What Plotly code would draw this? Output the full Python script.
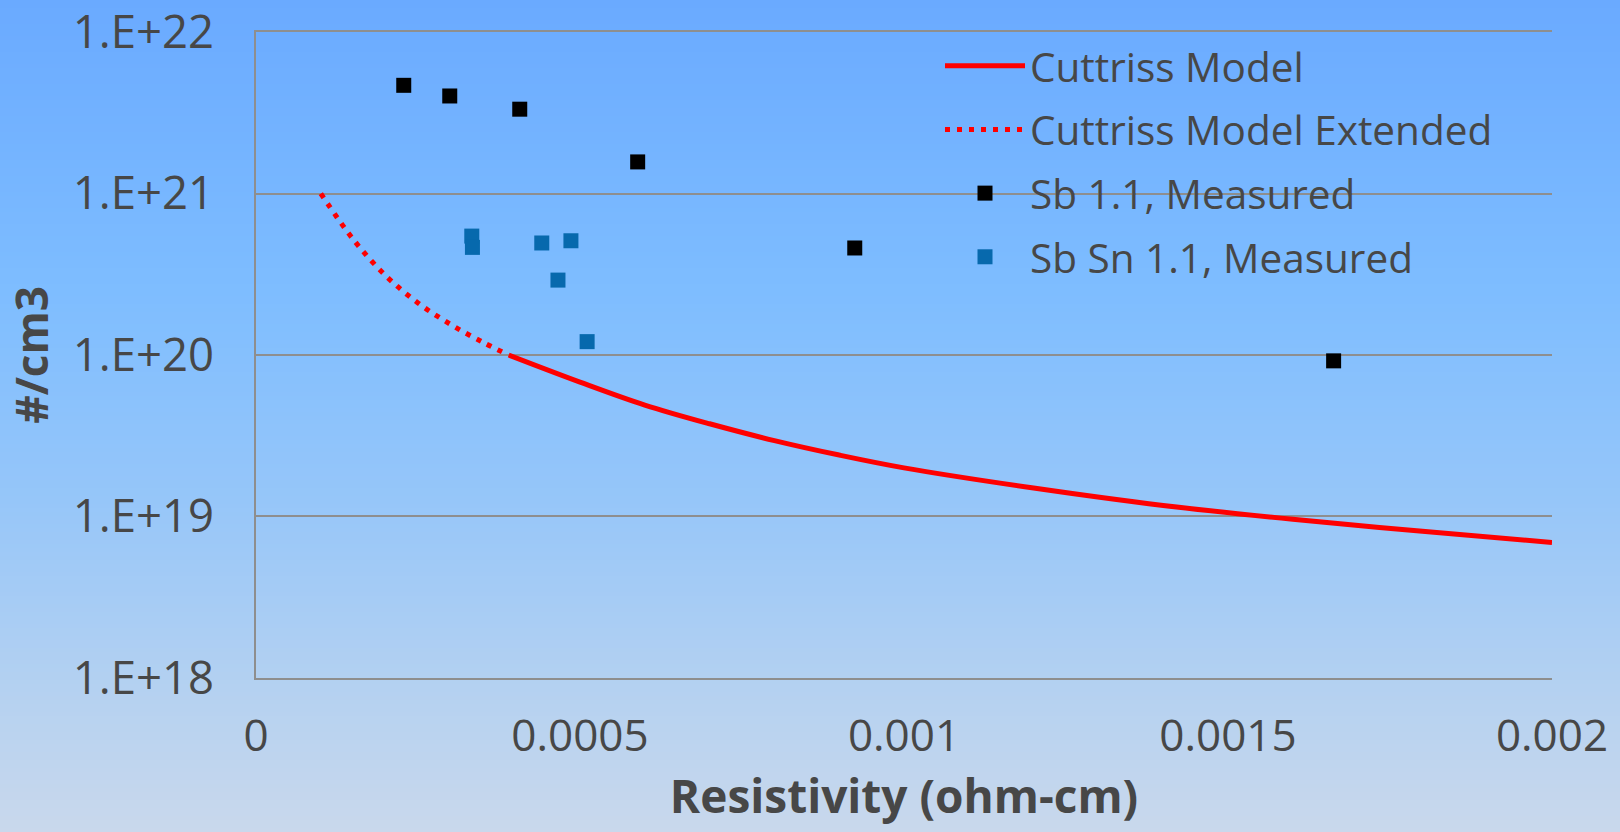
import plotly.graph_objects as go

# ---------------- data ----------------
rho_model = [0.00039, 0.0005, 0.0006, 0.0007, 0.0008, 0.0009, 0.001, 0.0012, 0.0014, 0.0016, 0.0018, 0.002]
n_model = [1.0e20, 6.8e19, 4.9e19, 3.75e19, 2.95e19, 2.4e19, 2.0e19, 1.5e19, 1.17e19, 9.6e18, 8.1e18, 6.9e18]

rho_ext = [0.0001, 0.00015, 0.0002, 0.00025, 0.0003, 0.00035, 0.00039]
n_ext = [1.0e21, 5.2e20, 3.1e20, 2.1e20, 1.55e20, 1.2e20, 1.0e20]

rho_sb = [0.000228, 0.000299, 0.000407, 0.000589, 0.000924, 0.001663]
n_sb = [4.68e21, 4.02e21, 3.33e21, 1.57e21, 4.6e20, 9.2e19]

rho_sbsn = [0.000333, 0.000334, 0.000441, 0.000486, 0.000466, 0.000511]
n_sbsn = [5.45e20, 4.64e20, 4.94e20, 5.1e20, 2.91e20, 1.21e20]

x_tick_vals = [0, 0.0005, 0.001, 0.0015, 0.002]
x_tick_text = ["0", "0.0005", "0.001", "0.0015", "0.002"]
y_tick_vals = [1e18, 1e19, 1e20, 1e21, 1e22]
y_tick_text = ["1.E+18", "1.E+19", "1.E+20", "1.E+21", "1.E+22"]

series_names = ["Cuttriss Model", "Cuttriss Model Extended", "Sb 1.1, Measured", "Sb Sn 1.1, Measured"]

# ---------------- layout constants ----------------
W, H = 1620, 832
L, R, T, B = 256, 68, 32, 154
TEXT = "#474747"
GRID = "#8e8e8e"
FONT = "Open Sans"

fig = go.Figure()

fig.add_trace(go.Scatter(
    x=rho_model, y=n_model, mode="lines", name=series_names[0],
    line=dict(color="#ff0000", width=5, shape="spline"), legendgroup="a"))
fig.add_trace(go.Scatter(
    x=rho_ext, y=n_ext, mode="lines", name=series_names[1],
    line=dict(color="#ff0000", width=5, dash="5px,7px", shape="spline"), legendgroup="b"))
fig.add_trace(go.Scatter(
    x=rho_sb, y=n_sb, mode="markers", name=series_names[2],
    marker=dict(symbol="square", size=15, color="#000000"), legendgroup="c"))
fig.add_trace(go.Scatter(
    x=rho_sbsn, y=n_sbsn, mode="markers", name=series_names[3],
    marker=dict(symbol="square", size=15, color="#0769ad"), legendgroup="d"))

# ---------------- background gradient (strips) ----------------
stops = [(0.0, (106, 170, 255)), (0.35, (126, 189, 255)), (0.6, (150, 198, 249)),
         (0.85, (183, 210, 240)), (1.0, (201, 216, 236))]


def grad(t):
    for (t0, c0), (t1, c1) in zip(stops[:-1], stops[1:]):
        if t <= t1:
            f = (t - t0) / (t1 - t0)
            return "rgb(%d,%d,%d)" % tuple(round(a + (b - a) * f) for a, b in zip(c0, c1))
    return "rgb(%d,%d,%d)" % stops[-1][1]


ph = H - T - B
pw = W - L - R
shapes = []
step = 4
for r0 in range(-4, H + 4, step):
    r1 = r0 + step + 1
    shapes.append(dict(
        type="rect", xref="paper", yref="paper",
        x0=-L / pw - 0.01, x1=1 + R / pw + 0.01,
        y0=(H - B - r1) / ph, y1=(H - B - r0) / ph,
        fillcolor=grad(min(1, max(0, (r0 + step / 2) / H))), line=dict(width=0), layer="below"))

fig.update_layout(
    width=W, height=H,
    margin=dict(l=L, r=R, t=T, b=B, autoexpand=False),
    paper_bgcolor="rgb(150,198,249)",
    plot_bgcolor="rgba(0,0,0,0)",
    shapes=shapes,
    font=dict(family=FONT, color=TEXT),
    showlegend=True,
    legend=dict(
        x=(940 - L) / pw, y=(H - B - 33) / ph, xanchor="left", yanchor="top",
        bgcolor="rgba(0,0,0,0)", font=dict(family=FONT, size=40.5, color=TEXT),
        tracegroupgap=8, itemwidth=80, traceorder="grouped",
    ),
    xaxis=dict(
        range=[0, 0.002], tickvals=x_tick_vals, ticktext=x_tick_text,
        showgrid=False, zeroline=False, showline=True, mirror=True,
        linecolor=GRID, linewidth=1.5,
        tickfont=dict(family=FONT, size=44, color=TEXT), ticks="", ticklabelstandoff=18,
        automargin=False, ticklabeloverflow="allow",
        title=dict(text="<b>Resistivity (ohm-cm)</b>", font=dict(family=FONT, size=46, color=TEXT), standoff=10),
    ),
    yaxis=dict(
        type="log", range=[17.9995, 22.0005], tickvals=y_tick_vals, ticktext=y_tick_text,
        showgrid=True, gridcolor=GRID, gridwidth=1.5, zeroline=False,
        showline=True, linecolor=GRID, linewidth=1.5,
        tickfont=dict(family=FONT, size=45.5, color=TEXT), ticks="", ticklabelstandoff=31,
        automargin=False, ticklabeloverflow="allow",
        title=dict(text="<b>#/cm3</b>", font=dict(family=FONT, size=44, color=TEXT), standoff=10),
    ),
)

fig.write_html("out.html")
